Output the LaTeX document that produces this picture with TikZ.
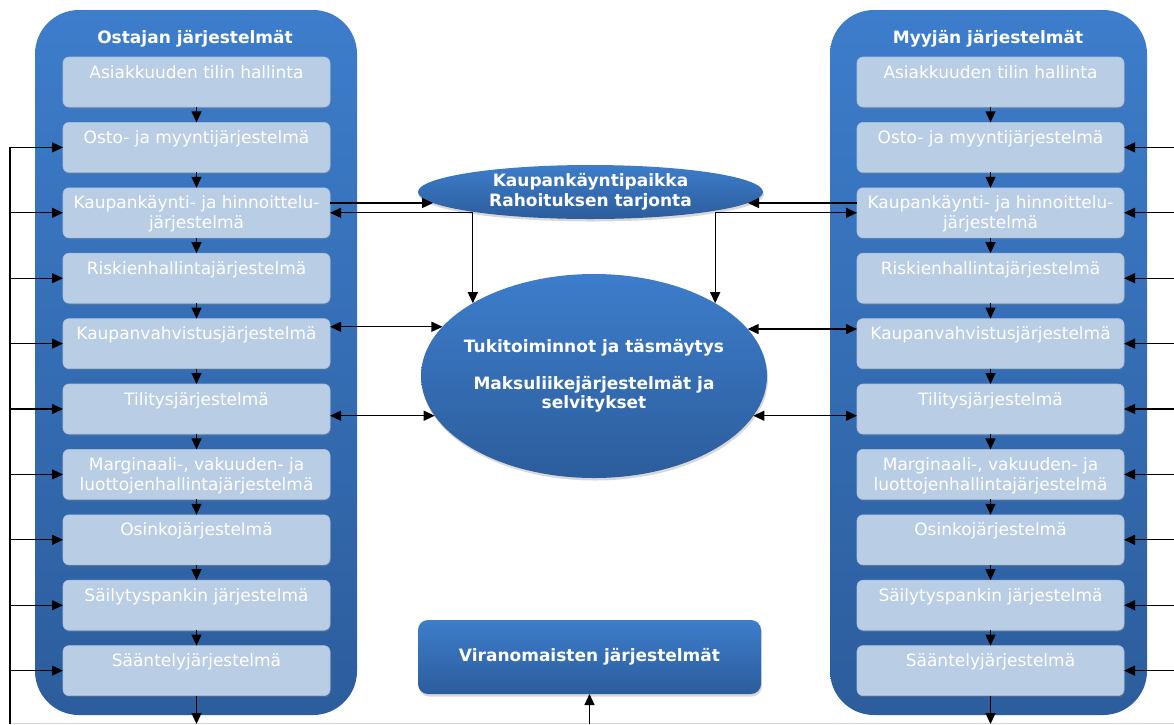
\documentclass[tikz,border=0pt]{standalone}
\usepackage{fontspec}
\setmainfont{DejaVu Sans}
\usetikzlibrary{shapes.geometric,arrows.meta,shadows}

\definecolor{panelTop}{HTML}{3D7DCB}
\definecolor{panelBot}{HTML}{2C5D9C}
\definecolor{boxFill}{HTML}{B9CDE5}
\definecolor{boxEdge}{HTML}{A9C0DE}
\definecolor{edgeGray}{HTML}{D6D6D6}

% text of a system box: sits near the top edge of the box
\newcommand{\boxtext}[1]{\parbox[c][50pt][t]{267pt}{\centering\vspace*{7pt}\strut #1}}
% text of a hub: takes no room, so the ellipse keeps its given size
\newcommand{\hubtext}[1]{\makebox[0pt]{\raisebox{-5pt}[0pt][0pt]{\begin{tabular}{@{}c@{}}#1\end{tabular}}}}

\begin{document}
\begin{tikzpicture}[x=1pt,y=-1pt,
  panel/.style={draw=none, rounded corners=44pt, top color=panelTop, bottom color=panelBot,
                minimum height=705pt, inner sep=0pt, outer sep=0pt},
  paneltitle/.style={text=white, font=\bfseries\fontsize{17}{20}\selectfont, inner sep=0pt},
  sysbox/.style={draw=boxEdge, line width=0.6pt, fill=boxFill, rounded corners=6pt,
                 minimum width=267pt, minimum height=50pt, inner sep=0pt, outer sep=0pt,
                 text=white, font=\fontsize{17}{20}\selectfont,
                 drop shadow={shadow xshift=0.8pt, shadow yshift=-1.6pt, opacity=0.35}},
  hub/.style={ellipse, draw=none, top color=panelTop, bottom color=panelBot,
              inner sep=0pt, outer sep=0pt, text=white,
              font=\bfseries\fontsize{17}{19.5}\selectfont,
              drop shadow={shadow xshift=1pt, shadow yshift=-2.5pt, opacity=0.3}},
  govbox/.style={draw=none, rounded corners=10pt, top color=panelTop, bottom color=panelBot,
                 minimum width=343pt, minimum height=74pt, inner sep=0pt, outer sep=0pt,
                 text=white, font=\bfseries\fontsize{17}{20}\selectfont,
                 drop shadow={shadow xshift=1pt, shadow yshift=-2.5pt, opacity=0.3}},
  tip/.tip={Triangle[length=11pt,width=10pt]},
  wire/.style={line width=1.2pt, draw=black},
  flow/.style={wire, -tip},
  both/.style={wire, tip-tip}]

\useasboundingbox (0,0) rectangle (1174,724);
\fill[white] (0,0) rectangle (1174,724);

% the two system columns
\node[panel, minimum width=322pt] (buyer)  at (196,362.5) {};
\node[panel, minimum width=317pt] (seller) at (988.5,362.5) {};
\node[paneltitle] (buyerT)  at (195,39)   {Ostajan järjestelmät};
\node[paneltitle] (sellerT) at (988,39)   {Myyjän järjestelmät};

% the ten systems, stacked the same way on both sides
\foreach \i/\t in {1/Asiakkuuden tilin hallinta,
                   2/Osto- ja myyntijärjestelmä,
                   3/{Kaupankäynti- ja hinnoittelu-\\järjestelmä},
                   4/Riskienhallintajärjestelmä,
                   5/Kaupanvahvistusjärjestelmä,
                   6/Tilitysjärjestelmä,
                   7/{Marginaali-, vakuuden- ja\\luottojenhallintajärjestelmä},
                   8/Osinkojärjestelmä,
                   9/Säilytyspankin järjestelmä,
                   10/Sääntelyjärjestelmä} {
  \node[sysbox] (L\i) at (196.5, {57+65.4*(\i-1)+25}) {\boxtext{\t}};
  \node[sysbox] (R\i) at (990.5, {57+65.4*(\i-1)+25}) {\boxtext{\t}};
}

% central hubs and the authorities
\node[hub, minimum width=345pt, minimum height=54pt] (market) at (590.5,192)
  {\hubtext{Kaupankäyntipaikka\\Rahoituksen tarjonta}};
\node[hub, minimum width=346pt, minimum height=204pt] (support) at (594,376)
  {\hubtext{Tukitoiminnot ja täsmäytys\\[17pt]Maksuliikejärjestelmät ja\\selvitykset}};
\node[govbox] (gov) at (589.5,657) {Viranomaisten järjestelmät};

% flow down each column
\foreach \i [evaluate=\i as \j using int(\i+1)] in {1,...,9} {
  \draw[flow] (L\i.south) -- (L\j.north);
  \draw[flow] (R\i.south) -- (R\j.north);
}

% feed lines along the outer edges
\coordinate (lbTop) at (10,147.4);
\coordinate (lbBot) at (10,724);
\coordinate (rbTop) at (1174,147.4);
\draw[edgeGray, line width=1pt] (10,723.3) -- (1174,723.3);
\draw[wire] (lbTop) -- (lbBot);
\foreach \i in {2,...,10} {
  \draw[flow] (lbTop |- L\i.west) -- (L\i.west);
  \draw[flow] (rbTop |- R\i.east) -- (R\i.east);
}

% exits at the bottom
\draw[flow] (L10.south) -- (L10.south |- lbBot);
\draw[flow] (R10.south) -- (R10.south |- lbBot);
\draw[flow] (gov.south |- lbBot) -- (gov.south);

% trading systems to the market place
\draw[flow] (L3.east |- market.184) -- (market.184);
\draw[flow] (R3.west |- market.-4) -- (market.-4);

% trading systems and the support hub
\draw[both] (L3.east) -| (support.149);
\draw[both] (R3.west) -| (support.31);

% confirmation and settlement links
\draw[both] (L5.east |- support.162.1) -- (support.162.1);
\draw[both] (R5.west |- support.17.9) -- (support.17.9);
\draw[both] (L6.east |- support.194.5) -- (support.194.5);
\draw[both] (R6.west |- support.-14.5) -- (support.-14.5);

\end{tikzpicture}
\end{document}
